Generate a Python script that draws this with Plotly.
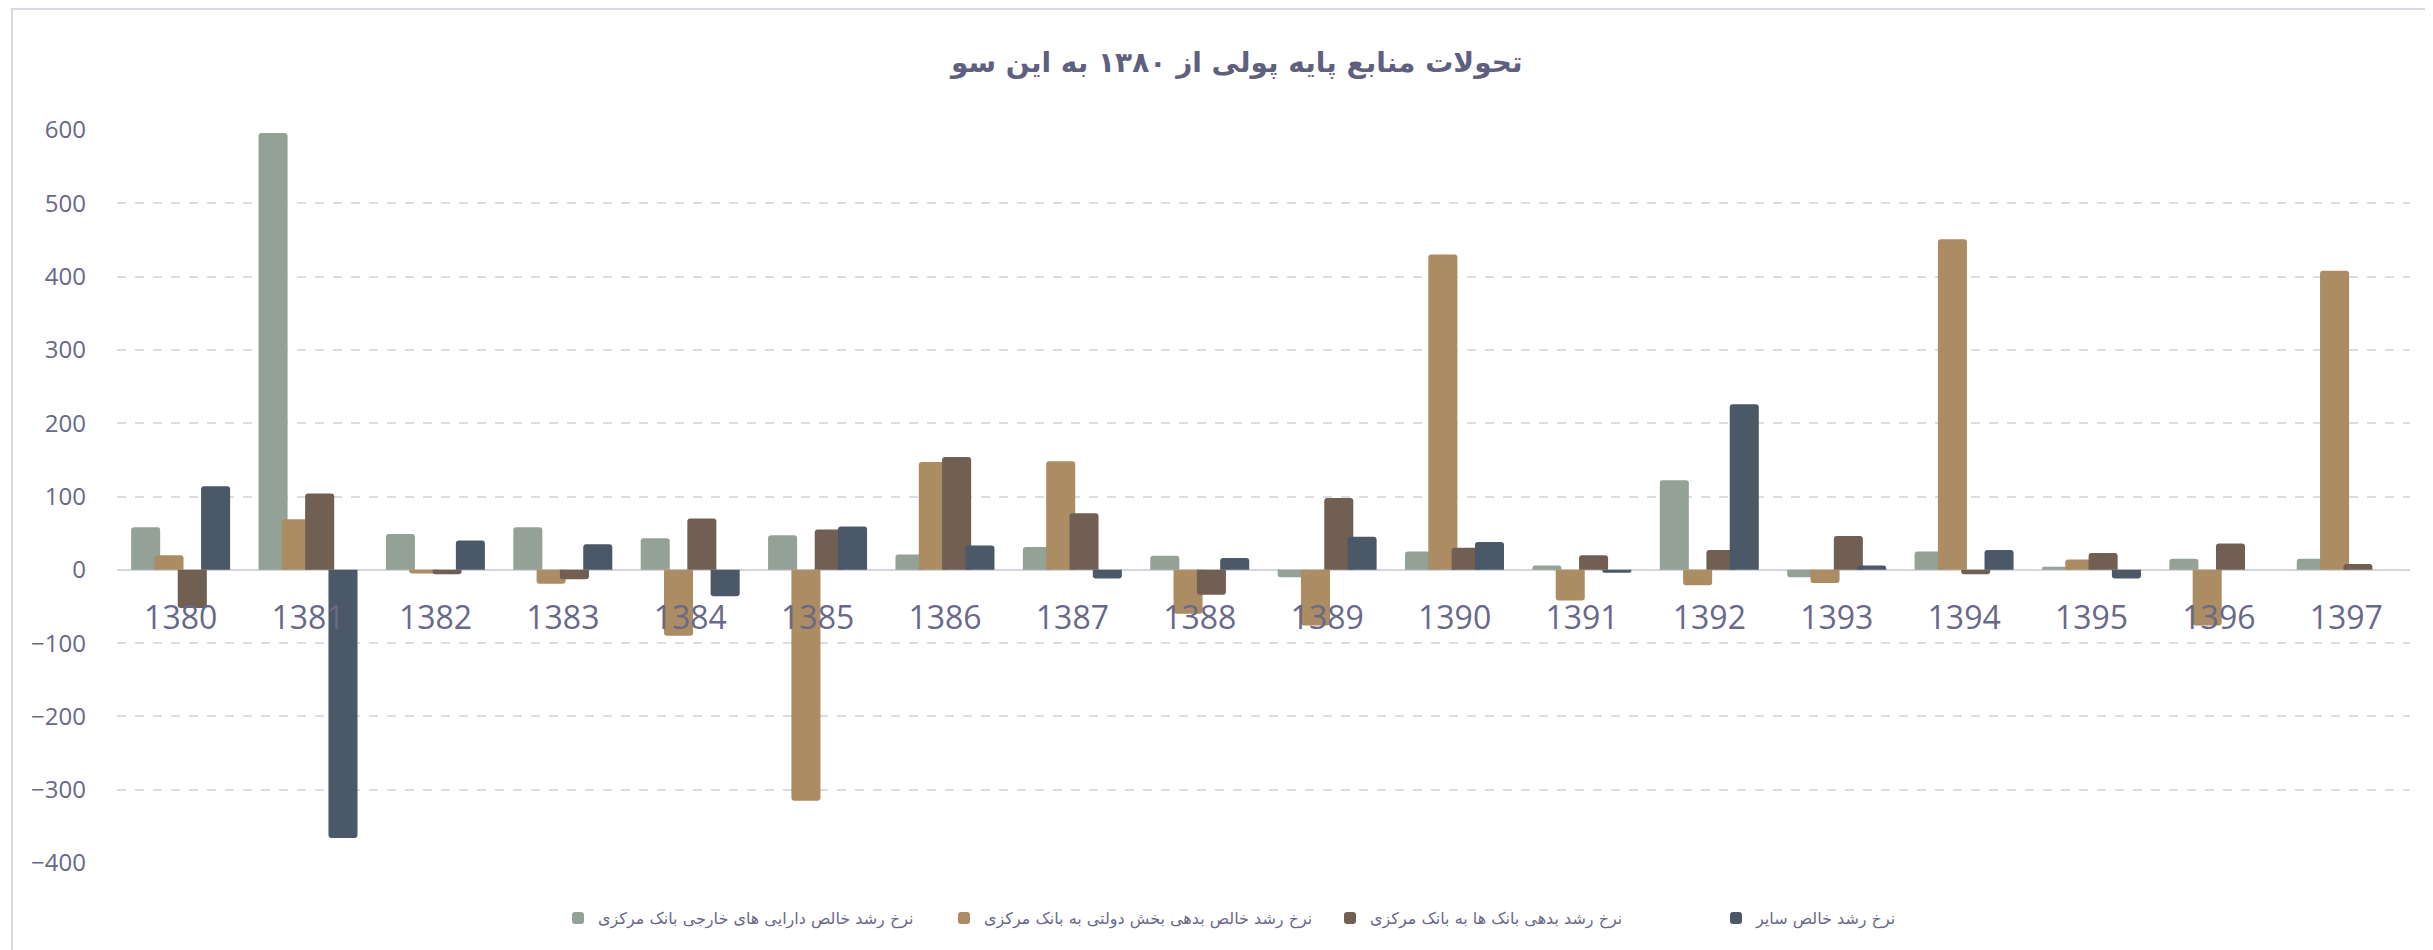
import plotly.graph_objects as go

years = ["1380", "1381", "1382", "1383", "1384", "1385", "1386", "1387", "1388",
         "1389", "1390", "1391", "1392", "1393", "1394", "1395", "1396", "1397"]

series_names = [
    "نرخ رشد خالص دارایی های خارجی بانک مرکزی",
    "نرخ رشد خالص بدهی بخش دولتی به بانک مرکزی",
    "نرخ رشد بدهی بانک ها به بانک مرکزی",
    "نرخ رشد خالص سایر",
]

foreign_assets = [58, 596, 49, 58, 43, 47, 21, 31, 19, -10, 25, 6, 122, -10, 25, 4, 15, 15]
government_debt = [20, 69, -5, -19, -90, -315, 147, 148, -60, -76, 430, -42, -21, -18, 451, 14, -76, 408]
banks_debt = [-52, 104, -6, -13, 70, 55, 154, 77, -34, 98, 30, 20, 27, 46, -6, 23, 36, 8]
other_net = [114, -366, 40, 35, -36, 59, 33, -12, 16, 45, 38, -4, 226, 6, 27, -12, None, None]

series_values = [foreign_assets, government_debt, banks_debt, other_net]
colors = ["#93A196", "#AB8C63", "#715F53", "#4B5868"]

y_ticks = [-400, -300, -200, -100, 0, 100, 200, 300, 400, 500, 600]

bar_width = 0.228
bar_step = 0.183
first_offset = -0.389

text_color = "#68688A"
grid_color = "#DCDCE3"

W, H = 2433, 950
ML, MR, MT, MB = 109, 31, 122, 95
PW, PH = W - ML - MR, H - MT - MB

fig = go.Figure()
for i, (name, vals, col) in enumerate(zip(series_names, series_values, colors)):
    fig.add_trace(go.Bar(
        x=years, y=vals, name=name,
        marker=dict(color=col, cornerradius=3, line=dict(width=0)),
        width=bar_width, offset=first_offset + i * bar_step,
    ))

fig.update_layout(
    width=W, height=H,
    barmode="overlay",
    paper_bgcolor="white", plot_bgcolor="white",
    margin=dict(l=ML, r=MR, t=MT, b=MB, autoexpand=False),
    title=dict(
        text="<b>تحولات منابع پایه پولی از ۱۳۸۰ به این سو</b>",
        x=0.505, xanchor="center", xref="container",
        y=1 - 54 / H, yanchor="middle", yref="container",
        font=dict(family="DejaVu Sans", size=28, color="#5F5F80"),
    ),
    font=dict(family="Open Sans", color=text_color),
    showlegend=True,
    legend=dict(
        orientation="h", xref="container", x=550 / W, xanchor="left",
        yref="container", y=1 - 910 / H, yanchor="middle",
        font=dict(family="DejaVu Sans", size=16, color=text_color),
        entrywidth=341, itemwidth=30, traceorder="normal",
    ),
    xaxis=dict(
        type="category", anchor="free", position=0.4,
        showline=False, ticks="", showgrid=False,
        tickfont=dict(family="Open Sans", size=32, color=text_color),
        ticklabelstandoff=26,
    ),
    yaxis=dict(
        range=[-400, 600], tickvals=y_ticks, showgrid=True,
        gridcolor=grid_color, griddash="dash", gridwidth=1.5,
        zeroline=True, zerolinecolor="#D5D5DD", zerolinewidth=2,
        tickfont=dict(family="Open Sans", size=24, color=text_color),
        ticklabelstandoff=30, showline=False,
    ),
    shapes=[dict(
        type="rect", xref="paper", yref="paper",
        x0=(4 - ML) / PW, x1=1.5, y0=-1, y1=(H - MB - 1) / PH,
        line=dict(color="#D9D9E0", width=2), fillcolor="rgba(0,0,0,0)", layer="below",
    )],
)

fig.write_html("out.html")
